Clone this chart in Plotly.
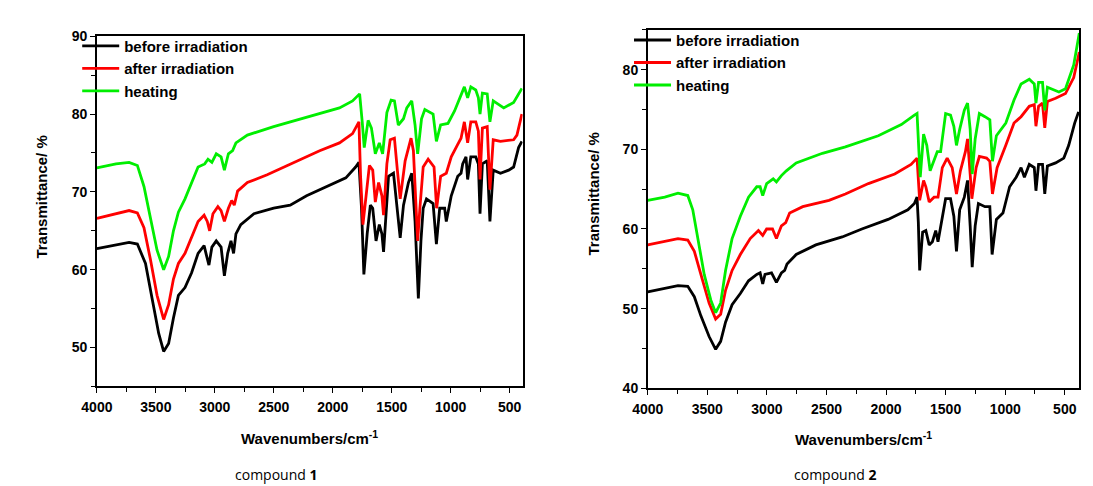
import plotly.graph_objects as go

# ---------------- compound 1 ----------------
c1_before_wn = [4000, 3727, 3657, 3588, 3532, 3476, 3434, 3392, 3351, 3309, 3253, 3197, 3142, 3091, 3072, 3050,
                3025, 2988, 2947, 2919, 2891, 2863, 2841, 2821, 2780, 2668, 2501, 2361, 2222, 2001, 1889, 1806,
                1778, 1756, 1736, 1708, 1681, 1661, 1633, 1605, 1583, 1569, 1549, 1527, 1485, 1456, 1428, 1400,
                1358, 1330, 1302, 1288, 1274, 1252, 1233, 1205, 1149, 1121, 1093, 1051, 1037, 995, 940, 912, 898,
                870, 856, 829, 787, 765, 751, 731, 690, 667, 639, 578, 508, 466, 424, 396]
c1_before_t = [62.7, 63.5, 63.3, 60.8, 56.3, 51.8, 49.5, 50.5, 53.8, 56.7, 57.7, 59.6, 62.1, 63.1, 61.9, 60.6,
               62.9, 63.7, 62.9, 59.2, 62.1, 63.7, 62.1, 64.6, 65.8, 67.2, 67.9, 68.3, 69.5, 71.0, 71.8, 73.2,
               73.8, 67.9, 59.4, 64.6, 68.3, 67.9, 63.7, 65.8, 64.6, 62.3, 67.0, 72.0, 72.4, 67.9, 64.1, 68.3,
               71.2, 72.4, 66.2, 61.3, 56.3, 63.7, 67.9, 69.1, 68.5, 63.3, 67.9, 67.9, 66.2, 69.5, 72.0, 72.4, 73.6,
               74.5, 71.6, 74.5, 74.5, 73.6, 67.2, 73.6, 74.0, 66.2, 72.8, 72.4, 72.8, 73.2, 75.7, 76.5]

c1_after_wn = [4000, 3727, 3657, 3601, 3546, 3490, 3434, 3392, 3351, 3309, 3253, 3197, 3142, 3091, 3064, 3044,
               3016, 2974, 2947, 2919, 2885, 2857, 2835, 2807, 2724, 2556, 2361, 2111, 1943, 1832, 1778, 1764,
               1744, 1717, 1689, 1661, 1639, 1611, 1583, 1569, 1541, 1513, 1477, 1452, 1428, 1386, 1336, 1316,
               1297, 1280, 1261, 1233, 1191, 1141, 1119, 1085, 1037, 995, 940, 912, 884, 856, 829, 787, 765, 751,
               731, 690, 667, 639, 578, 466, 438, 396]
c1_after_t = [66.6, 67.6, 67.3, 65.4, 61.3, 56.7, 53.6, 55.5, 58.8, 60.8, 62.1, 64.1, 66.2, 67.0, 66.2, 65.0,
              67.2, 68.1, 67.6, 66.2, 67.9, 68.9, 68.3, 70.1, 71.2, 72.2, 73.6, 75.3, 76.3, 77.5, 79.0, 72.0,
              65.8, 69.5, 73.4, 72.8, 68.7, 71.2, 69.5, 67.0, 73.6, 76.7, 76.9, 72.8, 69.1, 74.0, 76.9, 75.3,
              69.5, 63.7, 67.9, 73.2, 74.2, 73.2, 67.9, 72.0, 72.4, 74.5, 76.1, 76.9, 79.0, 76.3, 79.0, 79.0, 77.8, 71.6,
              78.2, 78.4, 70.3, 76.7, 76.5, 76.7, 77.3, 80.0]

c1_heat_wn = [4000, 3838, 3727, 3657, 3601, 3546, 3490, 3434, 3392, 3351, 3309, 3253, 3197, 3142, 3086, 3058,
              3025, 2988, 2947, 2919, 2885, 2849, 2821, 2724, 2501, 2361, 2111, 1943, 1832, 1772, 1750, 1733,
              1700, 1672, 1639, 1605, 1577, 1541, 1505, 1477, 1444, 1400, 1372, 1330, 1302, 1280, 1247, 1219,
              1149, 1121, 1085, 1023, 967, 912, 884, 856, 829, 787, 765, 751, 731, 690, 667, 639, 550, 466, 396]
c1_heat_t = [73.1, 73.6, 73.8, 73.4, 70.7, 66.6, 62.5, 60.0, 61.7, 65.0, 67.4, 69.1, 71.2, 73.2, 73.6, 74.2,
             73.8, 74.9, 74.5, 72.8, 74.9, 75.3, 76.3, 77.3, 78.4, 79.0, 80.0, 80.8, 81.7, 82.6, 79.0, 75.7,
             79.2, 78.2, 74.9, 76.3, 74.9, 80.2, 81.8, 81.7, 78.6, 79.4, 80.8, 81.7, 78.6, 74.9, 79.4, 80.6,
             80.0, 76.5, 78.6, 78.8, 80.4, 82.3, 83.5, 82.1, 83.5, 83.1, 82.1, 80.0, 82.7, 82.6, 79.0, 81.7, 80.8, 81.5, 83.3]

# ---------------- compound 2 ----------------
c2_before_wn = [4000, 3857, 3746, 3664, 3609, 3554, 3485, 3430, 3388, 3347, 3292, 3223, 3154, 3085, 3057, 3035,
                3016, 2961, 2920, 2878, 2851, 2831, 2754, 2589, 2368, 2203, 1983, 1817, 1762, 1740, 1729, 1718,
                1693, 1666, 1638, 1611, 1583, 1564, 1542, 1500, 1459, 1431, 1409, 1382, 1343, 1316, 1294, 1277,
                1252, 1225, 1170, 1129, 1110, 1074, 1019, 963, 908, 867, 839, 798, 756, 742, 720, 687, 668, 646,
                577, 508, 467, 417, 384]
c2_before_t = [52.1, 52.5, 52.9, 52.8, 51.5, 49.1, 46.5, 44.9, 45.9, 48.3, 50.5, 51.9, 53.5, 54.3, 54.5, 53.1,
               54.3, 54.5, 53.3, 54.5, 54.8, 55.6, 56.8, 58.0, 59.0, 60.0, 61.2, 62.4, 63.2, 64.0, 60.8, 54.8,
               59.6, 59.8, 58.0, 58.4, 59.8, 58.4, 60.4, 63.8, 63.8, 61.6, 57.2, 62.4, 64.0, 66.1, 60.4, 55.2,
               60.4, 63.2, 62.8, 62.8, 56.8, 61.2, 62.0, 65.3, 66.5, 67.7, 66.5, 68.1, 67.7, 64.8, 68.1, 68.1, 64.4, 67.9,
               68.3, 68.9, 70.5, 73.3, 74.7]

c2_after_wn = [4000, 3857, 3746, 3664, 3609, 3554, 3485, 3430, 3388, 3347, 3292, 3223, 3140, 3071, 3035, 3002,
               2953, 2920, 2878, 2842, 2809, 2699, 2479, 2341, 2148, 1927, 1790, 1740, 1729, 1718, 1685, 1666,
               1638, 1597, 1564, 1528, 1487, 1445, 1409, 1376, 1334, 1316, 1294, 1280, 1244, 1217, 1156, 1129,
               1107, 1068, 995, 926, 867, 798, 756, 742, 720, 687, 668, 646, 577, 494, 425, 378]
c2_after_t = [58.0, 58.4, 58.8, 58.6, 57.2, 54.3, 50.7, 48.7, 49.3, 52.3, 54.8, 56.8, 58.8, 59.8, 59.2, 60.0,
              60.0, 58.8, 60.4, 60.8, 62.0, 62.8, 63.6, 64.4, 65.7, 66.9, 68.1, 68.9, 65.7, 63.6, 66.1, 65.3,
              63.4, 64.0, 64.0, 67.7, 68.9, 67.7, 64.4, 67.3, 69.7, 71.3, 66.9, 63.8, 67.7, 69.1, 68.9, 68.5,
              64.4, 67.7, 70.5, 73.3, 74.1, 75.4, 75.6, 72.9, 75.4, 75.8, 72.7, 76.0, 76.4, 77.0, 79.0, 82.2]

c2_heat_wn = [4000, 3857, 3746, 3664, 3622, 3581, 3526, 3471, 3430, 3388, 3347, 3292, 3223, 3154, 3085, 3057,
              3035, 3002, 2947, 2920, 2878, 2837, 2754, 2534, 2341, 2065, 1872, 1762, 1740, 1724, 1713, 1685,
              1658, 1630, 1603, 1570, 1542, 1500, 1459, 1431, 1409, 1382, 1343, 1316, 1294, 1277, 1252, 1217,
              1170, 1129, 1107, 1074, 995, 926, 867, 798, 756, 742, 720, 687, 668, 646, 549, 494, 425, 378]
c2_heat_t = [63.6, 64.0, 64.5, 64.2, 62.4, 58.8, 54.3, 51.1, 49.5, 50.7, 54.8, 58.8, 61.6, 64.0, 65.3, 65.3,
             64.2, 65.7, 66.3, 65.9, 66.7, 67.3, 68.3, 69.5, 70.3, 71.7, 73.1, 74.3, 74.5, 69.7, 66.5, 71.9,
             70.5, 67.3, 68.5, 69.7, 69.7, 74.5, 74.3, 72.9, 70.5, 72.5, 74.9, 75.8, 72.5, 66.9, 71.3, 74.5,
             74.1, 73.7, 68.5, 71.7, 73.3, 76.2, 78.2, 78.8, 78.2, 75.8, 78.4, 78.4, 74.9, 77.8, 77.2, 77.6, 80.6, 84.6]

series_names = ["before irradiation", "after irradiation", "heating"]
series_colors = ["#000000", "#ff0000", "#00ee00"]

x_ticks = [4000, 3500, 3000, 2500, 2000, 1500, 1000, 500]
y_ticks_1 = [50, 60, 70, 80, 90]
y_ticks_2 = [40, 50, 60, 70, 80]

FONT = "Liberation Sans"
W, H = 1093, 486

fig = go.Figure()

data1 = [(c1_before_wn, c1_before_t), (c1_after_wn, c1_after_t), (c1_heat_wn, c1_heat_t)]
data2 = [(c2_before_wn, c2_before_t), (c2_after_wn, c2_after_t), (c2_heat_wn, c2_heat_t)]

for (xs, ys), name, col in zip(data1, series_names, series_colors):
    fig.add_trace(go.Scatter(x=xs, y=ys, mode="lines", name=name, line=dict(color=col, width=2.8),
                             xaxis="x", yaxis="y", legend="legend"))
for (xs, ys), name, col in zip(data2, series_names, series_colors):
    fig.add_trace(go.Scatter(x=xs, y=ys, mode="lines", name=name, line=dict(color=col, width=2.8),
                             xaxis="x2", yaxis="y2", legend="legend2"))

tickfont = dict(family=FONT, size=14, color="black", weight="bold")

def xaxis(domain, anchor, rng):
    return dict(domain=domain, anchor=anchor, range=rng, tickvals=x_ticks,
                ticks="outside", ticklen=5, tickwidth=1.3, tickcolor="black",
                minor=dict(dtick=250, ticks="outside", ticklen=4, tickwidth=1.2, tickcolor="black", showgrid=False),
                showline=True, linecolor="black", linewidth=1.5, mirror=True,
                showgrid=False, zeroline=False, tickfont=tickfont, ticklabelstandoff=2)

def yaxis(domain, anchor, rng, tv):
    return dict(domain=domain, anchor=anchor, range=rng, tickvals=tv,
                ticks="outside", ticklen=5, tickwidth=1.3, tickcolor="black",
                minor=dict(dtick=5, ticks="outside", ticklen=4, tickwidth=1.2, tickcolor="black", showgrid=False),
                showline=True, linecolor="black", linewidth=1.5, mirror=True,
                showgrid=False, zeroline=False, tickfont=tickfont)

legfont = dict(family=FONT, size=15, color="black", weight="bold")

fig.update_layout(
    width=W, height=H,
    margin=dict(l=0, r=0, t=0, b=0),
    paper_bgcolor="white", plot_bgcolor="white",
    xaxis=xaxis([74 / W, 506 / W], "y", [4000, 390]),
    yaxis=yaxis([1 - 383 / H, 1 - 21 / H], "x", [45, 90], y_ticks_1),
    xaxis2=xaxis([633 / W, 1071 / W], "y2", [4000, 378]),
    yaxis2=yaxis([1 - 385 / H, 1 - 14.3 / H], "x2", [40, 85], y_ticks_2),
    legend=dict(x=54 / W, y=1 - 14 / H, xanchor="left", yanchor="top", bgcolor="rgba(0,0,0,0)",
                font=legfont, tracegroupgap=0, itemwidth=37),
    legend2=dict(x=614 / W, y=1 - 8 / H, xanchor="left", yanchor="top", bgcolor="rgba(0,0,0,0)",
                 font=legfont, tracegroupgap=0, itemwidth=37),
    showlegend=True,
)

title_font = dict(family=FONT, size=15, color="black", weight="bold")
anns = [
    dict(text="Transmittance/ %", x=18 / W, y=1 - 187 / H, textangle=-90),
    dict(text="Transmittance/ %", x=578 / W, y=1 - 184 / H, textangle=-90),
    dict(text="Wavenumbers/cm<sup>-1</sup>", x=290 / W, y=1 - 436 / H),
    dict(text="Wavenumbers/cm<sup>-1</sup>", x=852 / W, y=1 - 437 / H),
]
for a in anns:
    fig.add_annotation(xref="paper", yref="paper", showarrow=False, font=title_font,
                       xanchor="center", yanchor="middle", **a)

cap_font = dict(family="Open Sans", size=14, color="black")
fig.add_annotation(text="compound <b>1</b>", x=256 / W, y=1 - 474 / H, xref="paper", yref="paper",
                   showarrow=False, font=cap_font, xanchor="center", yanchor="middle")
fig.add_annotation(text="compound <b>2</b>", x=823 / W, y=1 - 474 / H, xref="paper", yref="paper",
                   showarrow=False, font=cap_font, xanchor="center", yanchor="middle")

fig.write_html("out.html")
